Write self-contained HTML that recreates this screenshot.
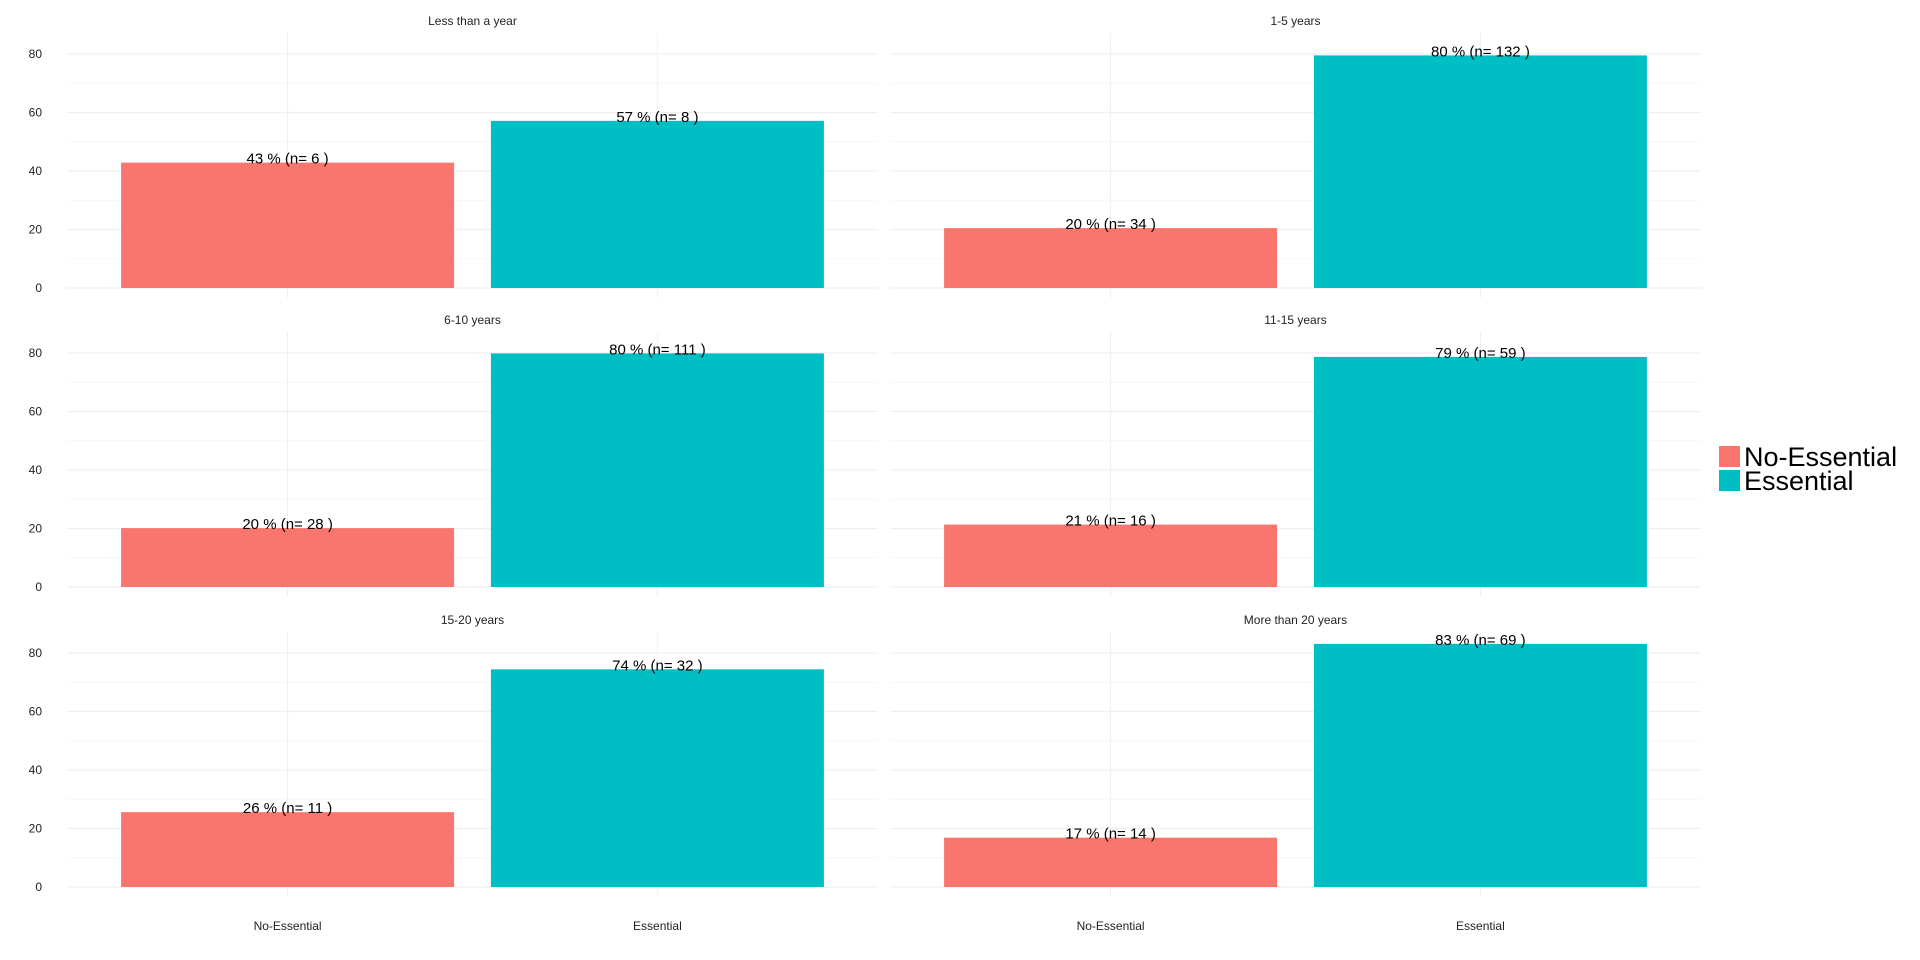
<!DOCTYPE html>
<html><head><meta charset="utf-8"><style>
html,body{margin:0;padding:0;background:#fff;width:1920px;height:960px;overflow:hidden}
svg text{font-family:"Liberation Sans",sans-serif}
</style></head><body>
<svg id="chart" width="1920" height="960" xmlns="http://www.w3.org/2000/svg"></svg>
<script>
const panels = ["Less than a year","1-5 years","6-10 years","11-15 years","15-20 years","More than 20 years"];
const categories = ["No-Essential","Essential"];
const noEssentialPct = [42.86,20.48,20.14,21.33,25.58,16.87];
const essentialPct = [57.14,79.52,79.86,78.67,74.42,83.13];
const noEssentialN = [6,34,28,16,11,14];
const essentialN = [8,132,111,59,32,69];
const yTicks = [0,20,40,60,80];
const colors = ["#F8766D","#00BFC4"];

const svg = document.getElementById('chart');
const NS = "http://www.w3.org/2000/svg";
function mk(tag, attrs, parent){const e=document.createElementNS(NS,tag);for(const k in attrs)e.setAttribute(k,attrs[k]);(parent||svg).appendChild(e);return e;}

const colX = [67, 890], panelW = 811;
const rowZero = [288, 587, 887];
const pxPerUnit = 2.925;
const plotTopOff = 255;

panels.forEach((title, i) => {
  const col = i % 2, row = Math.floor(i / 2);
  const x0 = colX[col], y0 = rowZero[row];
  const g = mk('g', {});
  
  
  const yS = v => y0 - v * pxPerUnit;
  const xS = c => x0 + panelW * (c === 0 ? 0.272 : 0.728);
  const bw = 333;
  [10,30,50,70].forEach(v => {
    const l = mk('line', {x1:x0, x2:x0+panelW, y1:yS(v), y2:yS(v), stroke:'#f7f7f7', 'stroke-width':1}, g);
    
    
  });
  yTicks.forEach(v => {
    const l = mk('line', {x1:x0, x2:x0+panelW, y1:yS(v), y2:yS(v), stroke:'#f0f0f0', 'stroke-width':1.2}, g);
    
    
    if (col === 0) {
      const t = mk('text', {x:42, y:yS(v)+4, 'text-anchor':'end', 'font-size':12, fill:'#222'}, g);
      t.textContent = v;
      
      
    }
  });
  categories.forEach((c, ci) => {
    const l = mk('line', {x1:xS(ci), x2:xS(ci), y1:y0-plotTopOff, y2:y0+10, stroke:'#f0f0f0', 'stroke-width':1}, g);
    
    
  });
  const tt = mk('text', {x:x0+panelW/2, y:y0-263, 'text-anchor':'middle', 'font-size':12, fill:'#222'}, g);
  tt.textContent = title;
  
  
  const vals = [noEssentialPct[i], essentialPct[i]];
  const ns = [noEssentialN[i], essentialN[i]];
  vals.forEach((v, ci) => {
    const r = mk('rect', {x:xS(ci)-bw/2, y:yS(v), width:bw, height:v*pxPerUnit, fill:colors[ci]}, g);
    
    
    const t = mk('text', {x:xS(ci), y:yS(v)+1, 'text-anchor':'middle', 'font-size':15, fill:'#000', 'xml:space':'preserve'}, g);
    t.textContent = Math.round(v) + ' %  (n= ' + ns[ci] + ' )';
    
    
  });
  if (row === 2) {
    categories.forEach((c, ci) => {
      const t = mk('text', {x:xS(ci), y:930, 'text-anchor':'middle', 'font-size':12, fill:'#222'}, g);
      t.textContent = c;
      
      
    });
  }
});

const lg = mk('g', {});


categories.forEach((c, ci) => {
  const y = 446 + ci * 24;
  const r = mk('rect', {x:1719, y:y, width:21, height:21, fill:colors[ci]}, lg);
  
  
  const t = mk('text', {x:1744, y:y+20, 'font-size':27, fill:'#000'}, lg);
  t.textContent = c;
  
  
});
</script>
</body></html>
